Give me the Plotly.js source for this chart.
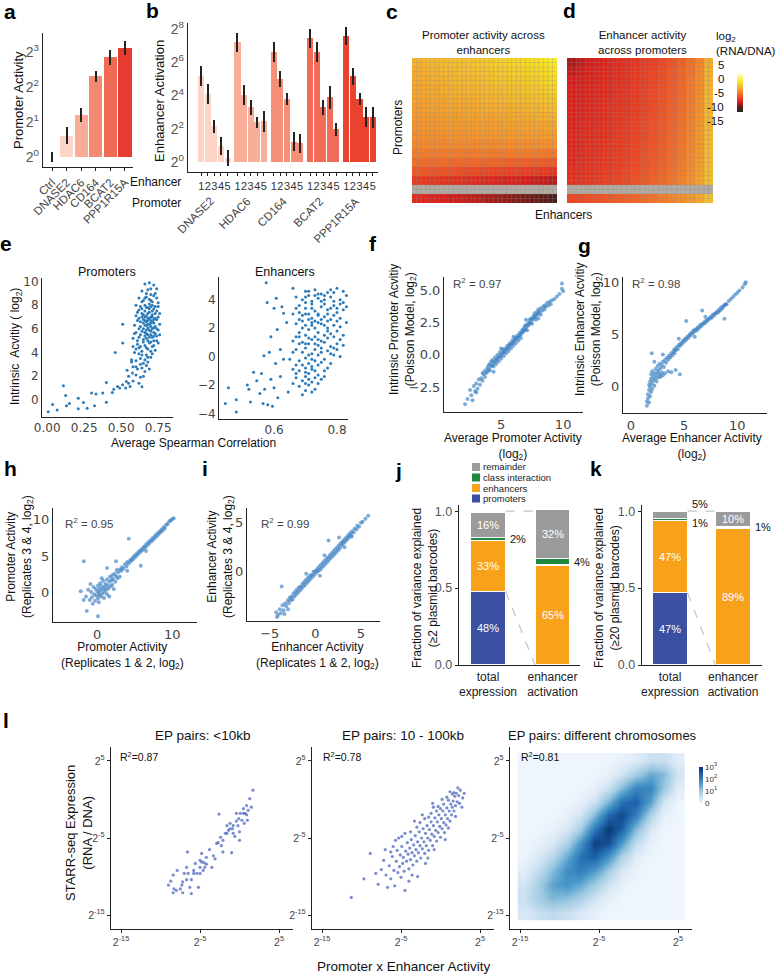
<!DOCTYPE html>
<html><head><meta charset="utf-8">
<script src="https://cdn.plot.ly/plotly-3.0.1.min.js"></script>
<style>body{margin:0;background:#fff}#chart{width:777px;height:976px}</style>
</head><body><div id="chart"></div>
<script>
// ---------------- DATA ----------------
// a: promoter activity (log2)
const aCats=['Ctrl','DNASE2','HDAC6','CD164','BCAT2','PPP1R15A'];
const aVals=[0,0.6,1.2,2.3,2.84,3.12];
const aErr=[0.15,0.24,0.21,0.16,0.21,0.2];
const aTicks=[0,1,2,3];
// b: enhancer activation (log2)
const bPromoters=['DNASE2','HDAC6','CD164','BCAT2','PPP1R15A'];
const bEnhancers=['1','2','3','4','5'];
const bVals=[[5.2,4.1,2.15,0.95,0.25],[7.2,4.05,3.3,2.4,2.45],[6.65,5.0,3.8,1.22,1.14],[7.45,6.65,3.29,3.9,1.98],[7.6,5.15,3.79,2.69,2.69]];
const bErr=[[0.6,0.6,0.4,0.55,0.5],[0.55,0.6,0.45,0.33,0.65],[0.6,0.47,0.37,0.58,0.57],[0.58,0.6,0.47,0.68,0.4],[0.55,0.5,0.35,0.6,0.63]];
const bTicks=[0,2,4,6,8];
// c: promoter activity across enhancers (log2 RNA/DNA), rows top->bottom
const cMatrix=[
[-2.6,-2.4,-2.3,-2.1,-1.9,-1.8,-1.6,-1.4,-1.2,-1.0,-0.8,-0.6,-0.3,0.0,0.3,0.8],
[-2.9,-2.7,-2.6,-2.4,-2.3,-2.1,-2.0,-1.8,-1.6,-1.4,-1.2,-1.0,-0.8,-0.5,-0.2,0.2],
[-3.1,-3.0,-2.8,-2.7,-2.5,-2.4,-2.2,-2.1,-1.9,-1.7,-1.6,-1.4,-1.2,-1.0,-0.7,-0.4],
[-3.3,-3.2,-3.1,-2.9,-2.8,-2.7,-2.5,-2.4,-2.2,-2.1,-1.9,-1.8,-1.6,-1.4,-1.2,-0.9],
[-3.5,-3.4,-3.3,-3.2,-3.1,-3.0,-2.9,-2.7,-2.6,-2.5,-2.4,-2.2,-2.1,-1.9,-1.7,-1.5],
[-3.8,-3.7,-3.6,-3.5,-3.4,-3.3,-3.2,-3.1,-3.0,-2.9,-2.8,-2.7,-2.6,-2.4,-2.3,-2.1],
[-4.0,-3.9,-3.9,-3.8,-3.7,-3.6,-3.5,-3.5,-3.4,-3.3,-3.2,-3.1,-3.0,-2.9,-2.8,-2.7],
[-4.3,-4.2,-4.2,-4.1,-4.0,-4.0,-3.9,-3.8,-3.8,-3.7,-3.6,-3.6,-3.5,-3.4,-3.4,-3.3],
[-4.6,-4.5,-4.5,-4.4,-4.4,-4.3,-4.3,-4.2,-4.2,-4.1,-4.1,-4.0,-4.0,-3.9,-3.9,-3.8],
[-5.0,-4.9,-4.9,-4.9,-4.8,-4.8,-4.8,-4.7,-4.7,-4.7,-4.6,-4.6,-4.6,-4.6,-4.5,-4.5],
[-5.5,-5.5,-5.5,-5.5,-5.5,-5.5,-5.5,-5.5,-5.5,-5.5,-5.5,-5.5,-5.5,-5.5,-5.6,-5.6],
[-6.2,-6.2,-6.3,-6.3,-6.4,-6.4,-6.5,-6.5,-6.6,-6.6,-6.7,-6.7,-6.8,-6.9,-7.0,-7.1],
[-7.2,-7.3,-7.4,-7.5,-7.6,-7.7,-7.8,-7.9,-8.0,-8.1,-8.2,-8.3,-8.4,-8.5,-8.7,-8.9],
[-8.6,-8.8,-8.9,-9.1,-9.3,-9.4,-9.6,-9.8,-9.9,-10.0,-10.2,-10.3,-10.5,-10.7,-10.9,-11.2],
[null,null,null,null,null,null,null,null,null,null,null,null,null,null,null,null],
[-9.6,-9.9,-10.1,-10.3,-10.6,-10.8,-11.0,-11.2,-11.5,-11.7,-12.0,-12.2,-12.5,-12.8,-13.2,-13.8]];
// d: enhancer activity across promoters
const dMatrix=[
[-11.5,-11.0,-10.6,-10.3,-10.0,-9.7,-9.4,-9.1,-8.7,-8.3,-7.9,-7.4,-6.8,-6.0,-5.0,-3.0],
[-11.0,-10.6,-10.3,-10.0,-9.8,-9.5,-9.2,-8.9,-8.5,-8.1,-7.7,-7.2,-6.6,-5.8,-4.8,-2.8],
[-10.6,-10.3,-10.1,-9.9,-9.7,-9.4,-9.1,-8.8,-8.4,-8.0,-7.6,-7.1,-6.5,-5.7,-4.7,-2.7],
[-10.4,-10.2,-10.0,-9.8,-9.6,-9.3,-9.0,-8.7,-8.3,-7.9,-7.5,-7.0,-6.4,-5.6,-4.6,-2.6],
[-10.3,-10.1,-9.9,-9.7,-9.5,-9.2,-8.9,-8.6,-8.2,-7.8,-7.4,-6.9,-6.3,-5.5,-4.5,-2.5],
[-10.2,-10.0,-9.8,-9.6,-9.4,-9.1,-8.8,-8.5,-8.1,-7.7,-7.3,-6.8,-6.2,-5.4,-4.4,-2.5],
[-10.1,-9.9,-9.7,-9.5,-9.3,-9.0,-8.7,-8.4,-8.0,-7.6,-7.2,-6.7,-6.1,-5.3,-4.3,-2.4],
[-10.0,-9.8,-9.6,-9.4,-9.2,-8.9,-8.6,-8.3,-7.9,-7.5,-7.1,-6.6,-6.0,-5.2,-4.2,-2.4],
[-9.9,-9.7,-9.5,-9.3,-9.1,-8.8,-8.5,-8.2,-7.8,-7.4,-7.0,-6.5,-5.9,-5.1,-4.1,-2.3],
[-9.8,-9.6,-9.4,-9.2,-9.0,-8.7,-8.4,-8.1,-7.7,-7.3,-6.9,-6.4,-5.8,-5.0,-4.0,-2.3],
[-9.7,-9.5,-9.3,-9.1,-8.9,-8.6,-8.3,-8.0,-7.6,-7.2,-6.8,-6.3,-5.7,-4.9,-3.9,-2.2],
[-9.6,-9.4,-9.2,-9.0,-8.8,-8.5,-8.2,-7.9,-7.5,-7.1,-6.7,-6.2,-5.6,-4.8,-3.8,-2.2],
[-9.4,-9.2,-9.0,-8.8,-8.6,-8.3,-8.0,-7.7,-7.3,-6.9,-6.5,-6.0,-5.4,-4.6,-3.6,-2.1],
[-9.2,-9.0,-8.8,-8.6,-8.4,-8.1,-7.8,-7.5,-7.1,-6.7,-6.3,-5.8,-5.2,-4.4,-3.4,-2.0],
[null,null,null,null,null,null,null,null,null,null,null,null,null,null,null,null],
[-8.0,-7.8,-7.6,-7.4,-7.2,-7.0,-6.8,-6.5,-6.2,-5.9,-5.5,-5.1,-4.6,-4.0,-3.2,-2.0]];
const cbTicks=[5,0,-5,-10,-15];
// e: spearman correlation vs intrinsic activity
const ePromPts=[[0.007,-1.0],[0.036,-0.4],[0.067,-0.85],[0.11,1.2],[0.125,0.37],[0.13,-0.5],[0.15,-0.3],[0.21,0.14],[0.21,-0.76],[0.245,-0.23],[0.27,-0.7],[0.30,0.57],[0.33,0.5],[0.32,-0.5],[0.375,0.57],[0.40,-0.2],[0.40,1.47],[0.44,0.62],[0.45,0.9],[0.475,1.13],[0.46,4.0],[0.51,4.8],[0.51,1.27],[0.53,1.0],[0.535,1.56],[0.55,2.0],[0.56,1.13],[0.576,2.27],[0.51,6.4],[0.60,2.8],[0.49,1.0],[0.54,2.5],[0.57,3.2],[0.55,1.4],
[0.66,9.8],[0.69,9.9],[0.72,9.7],[0.64,9.2],[0.68,9.3],[0.70,8.9],[0.73,9.0],[0.62,8.6],[0.65,8.4],[0.67,8.7],[0.69,8.5],[0.71,8.3],[0.74,8.6],[0.60,8.0],[0.63,7.9],[0.66,8.0],[0.68,7.8],[0.70,7.9],[0.72,7.7],[0.75,7.9],[0.61,7.4],[0.64,7.3],[0.66,7.5],[0.67,7.1],[0.69,7.4],[0.71,7.2],[0.73,7.3],[0.75,7.0],[0.62,6.9],[0.65,6.8],[0.67,6.6],[0.68,6.9],[0.70,6.7],[0.72,6.5],[0.74,6.8],[0.76,6.4],[0.59,6.3],[0.63,6.2],[0.66,6.3],[0.68,6.1],[0.69,6.4],[0.71,6.0],[0.73,6.2],[0.75,5.9],[0.60,5.7],[0.64,5.8],[0.67,5.6],[0.69,5.9],[0.70,5.5],[0.72,5.7],[0.74,5.4],[0.58,5.2],[0.62,5.3],[0.65,5.1],[0.67,5.2],[0.70,4.9],[0.72,5.0],[0.75,4.8],[0.61,4.7],[0.63,4.5],[0.66,4.6],[0.68,4.3],[0.71,4.5],[0.73,4.2],[0.59,4.0],[0.62,3.9],[0.64,4.1],[0.67,3.8],[0.70,3.6],[0.57,3.4],[0.60,3.3],[0.63,3.5],[0.65,3.1],[0.68,3.2],[0.58,2.8],[0.61,2.6],[0.64,2.7],[0.66,2.4],[0.60,2.1],[0.63,1.9],[0.65,2.0],[0.62,1.4],[0.58,1.6],[0.64,1.1],[0.69,8.1],[0.70,7.0],[0.67,5.9],[0.69,5.3],[0.71,6.6],[0.68,6.7],[0.66,7.0],[0.72,6.1],[0.65,6.0],[0.70,6.2],[0.68,5.0],[0.74,7.5],[0.63,6.6],[0.71,8.0],[0.66,5.4],[0.64,7.0],[0.73,5.6],
[0.67,6.3],[0.69,6.9],[0.71,7.5],[0.68,7.3],[0.70,8.4],[0.72,8.8],[0.66,8.6],[0.64,7.7],[0.65,6.5],[0.73,6.9],[0.74,6.0],[0.71,5.3],[0.69,4.8],[0.67,4.4],[0.65,4.9],[0.63,5.5],[0.62,6.0],[0.61,6.7],[0.60,7.1],[0.62,7.6],[0.64,8.3],[0.67,9.0],[0.70,9.4],[0.74,9.4],[0.75,8.2],[0.76,7.3],[0.76,5.5],[0.74,5.0],[0.72,4.6],[0.70,4.1],[0.68,3.6],[0.66,3.4],[0.64,3.8],[0.62,4.4],[0.61,5.0],[0.59,5.6],[0.58,4.5],[0.60,4.3],[0.66,5.7],[0.68,5.5],[0.70,5.8],[0.72,6.8],[0.69,7.7],[0.67,7.8],[0.65,7.2],[0.71,7.0],[0.73,7.9],[0.70,6.5],[0.68,6.4],[0.66,6.7],[0.72,5.4],[0.63,3.0],[0.67,2.9],[0.71,3.9],[0.69,2.6]];
const eEnhPts=[[0.445,-3.3],[0.48,-3.9],[0.48,-3.05],[0.455,-2.2],[0.515,-2.0],[0.52,-2.3],[0.525,-3.2],[0.535,-1.1],[0.56,-1.2],[0.565,-3.3],[0.58,-3.4],[0.595,-3.5],[0.575,5.2],[0.578,3.8],[0.607,4.1],[0.59,1.4],[0.568,0.05],[0.585,0.3],[0.63,3.05],[0.555,-2.6],[0.57,-2.3],[0.6,-2.2],[0.59,-1.6],[0.612,-2.9],[0.62,-1.4],[0.605,-0.5],[0.62,0.5],[0.61,1.9],[0.6,3.4],[0.625,3.5],[0.64,2.4],[0.63,-0.2],[0.645,-2.5],[0.545,-1.7],
[0.66,4.8],[0.70,4.6],[0.73,4.7],[0.77,4.5],[0.80,4.8],[0.67,4.2],[0.69,4.0],[0.71,4.3],[0.74,4.1],[0.76,4.0],[0.78,4.2],[0.81,4.0],[0.82,3.8],[0.68,3.6],[0.70,3.4],[0.72,3.7],[0.73,3.2],[0.75,3.5],[0.77,3.3],[0.79,3.6],[0.80,3.1],[0.82,3.3],[0.66,3.0],[0.69,2.9],[0.71,3.0],[0.72,2.7],[0.74,2.9],[0.76,2.8],[0.78,2.6],[0.81,2.7],[0.83,2.4],[0.67,2.3],[0.70,2.2],[0.72,2.4],[0.73,2.0],[0.75,2.3],[0.77,2.0],[0.79,2.2],[0.80,1.8],[0.68,1.7],[0.70,1.5],[0.71,1.9],[0.73,1.4],[0.74,1.7],[0.76,1.5],[0.78,1.6],[0.82,1.5],[0.66,1.1],[0.69,1.0],[0.71,0.9],[0.72,1.2],[0.74,0.8],[0.76,1.0],[0.78,0.7],[0.80,0.9],[0.67,0.5],[0.69,0.3],[0.70,0.6],[0.72,0.2],[0.73,0.5],[0.75,0.3],[0.77,0.4],[0.79,0.1],[0.81,0.0],[0.65,-0.2],[0.68,-0.3],[0.70,-0.1],[0.71,-0.5],[0.73,-0.3],[0.74,-0.6],[0.76,-0.2],[0.78,-0.5],[0.66,-0.9],[0.68,-1.0],[0.70,-0.8],[0.71,-1.2],[0.72,-0.9],[0.74,-1.3],[0.76,-1.0],[0.67,-1.5],[0.69,-1.7],[0.70,-1.4],[0.72,-1.8],[0.73,-1.5],[0.75,-1.6],[0.68,-2.1],[0.70,-2.4],[0.71,-2.0],[0.73,-2.3],[0.69,-2.7],[0.66,-1.9],[0.72,3.9],[0.75,4.4],[0.70,3.0],[0.76,3.7],[0.73,2.5],[0.71,2.6],[0.75,1.1],[0.77,2.5],[0.69,2.0],[0.74,0.1],[0.71,0.1],[0.68,0.9],[0.77,1.3],[0.80,3.4],[0.83,4.3],[0.79,4.5],[0.81,2.1],[0.72,-0.7],[0.67,-0.6],
[0.71,4.6],[0.74,4.4],[0.78,4.7],[0.76,4.3],[0.79,3.9],[0.75,3.9],[0.72,3.4],[0.70,3.8],[0.68,3.1],[0.74,3.0],[0.77,3.0],[0.80,2.5],[0.79,2.9],[0.75,2.6],[0.72,2.2],[0.69,2.5],[0.68,1.4],[0.71,1.3],[0.74,1.2],[0.77,1.8],[0.79,1.4],[0.81,1.2],[0.70,0.9],[0.73,0.9],[0.75,0.6],[0.78,0.2],[0.80,0.5],[0.82,0.8],[0.69,-0.6],[0.72,-0.2],[0.75,-0.4],[0.77,-0.8],[0.70,-1.1],[0.73,-1.0],[0.76,-1.4],[0.71,-1.6],[0.74,-1.9],[0.72,-2.5],[0.70,-1.9],[0.67,-1.2],[0.66,0.3],[0.67,1.4],[0.68,2.6],[0.67,3.4],[0.70,4.2],[0.82,4.6],[0.83,3.5],[0.81,3.7],[0.78,3.4],[0.73,4.3],[0.76,2.2],[0.79,0.6],[0.74,2.4]];
// f: average promoter activity vs Poisson model
const fPts=[[2.1,-3.8],[2.3,-3.4],[2.5,-2.7],[2.6,-3.1],[2.8,-2.4],[2.9,-2.8],[3.0,-2.2],[3.1,-2.6],[3.2,-1.9],[3.3,-2.3],[3.4,-1.8],[3.5,-1.4],[3.5,-2.0],[3.6,-1.5],[3.7,-1.2],[3.7,-1.7],[3.8,-1.4],[3.9,-1.0],[3.9,-1.3],[4.0,-1.1],[4.0,-0.8],[4.1,-1.2],[4.1,-0.7],[4.2,-0.9],[4.2,-0.5],[4.3,-0.8],[4.3,-0.4],[4.4,-0.6],[4.4,-0.9],[4.5,-0.5],[4.5,-0.2],[4.6,-0.4],[4.6,-0.7],[4.7,-0.3],[4.7,0.0],[4.8,-0.2],[4.8,-0.5],[4.9,-0.1],[4.9,0.2],[5.0,0.0],[5.0,-0.3],[5.1,0.1],[5.1,0.4],[5.2,0.2],[5.2,-0.1],[5.3,0.3],[5.3,0.5],[5.4,0.4],[5.4,0.1],[5.5,0.5],[5.5,0.7],[5.6,0.6],[5.6,0.3],[5.7,0.7],[5.7,0.9],[5.8,0.8],[5.8,0.5],[5.9,0.9],[5.9,1.1],[6.0,1.0],[6.0,0.7],[6.1,1.1],[6.1,1.3],[6.2,1.2],[6.2,0.9],[6.3,1.3],[6.3,1.5],[6.4,1.4],[6.4,1.1],[6.5,1.5],[6.5,1.7],[6.6,1.6],[6.6,1.3],[6.7,1.7],[6.7,1.9],[6.8,1.8],[6.8,2.0],[6.9,1.9],[6.9,2.2],[7.0,2.0],[7.0,2.3],[7.1,2.2],[7.1,1.9],[7.2,2.3],[7.2,2.5],[7.3,2.4],[7.3,2.7],[7.4,2.5],[7.4,2.8],[7.5,2.7],[7.5,2.4],[7.6,2.8],[7.6,3.0],[7.7,2.9],[7.7,3.2],[7.8,3.0],[7.8,2.7],[7.9,3.1],[7.9,3.3],[8.0,3.2],[8.0,3.5],[8.1,3.3],[8.2,3.6],[8.2,3.1],[8.3,3.4],[8.4,3.7],[8.5,3.5],[8.5,3.8],[8.6,3.7],[8.7,4.0],[8.8,3.8],[8.9,4.1],[9.0,3.9],[9.1,4.2],[9.3,4.3],[9.5,4.5],[9.7,4.7],[9.9,5.1],[10.0,4.9],[9.9,5.5],[3.0,-2.9],[2.7,-3.5],[6.0,1.4],[5.0,0.5],[7.0,2.7],[4.4,-1.3],[8.0,2.8]];
// g: average enhancer activity vs Poisson model
const gPts=[[1.5,-1.8],[1.5,-1.4],[1.6,-1.1],[1.6,-0.7],[1.7,-1.5],[1.7,-0.3],[1.7,0.2],[1.8,-0.9],[1.8,0.5],[1.8,0.0],[1.9,-0.5],[1.9,0.8],[1.9,1.2],[2.0,0.3],[2.0,-0.2],[2.0,1.5],[2.1,0.6],[2.1,1.0],[2.2,0.1],[2.2,1.3],[2.3,0.8],[2.3,1.7],[2.4,1.1],[2.4,0.5],[2.5,1.4],[2.5,2.0],[2.6,0.9],[2.6,1.6],[2.7,1.2],[2.7,2.2],[2.8,1.8],[2.8,1.0],[2.9,2.1],[2.9,1.4],[3.0,2.4],[3.0,1.1],[3.1,1.9],[3.2,2.6],[3.2,1.3],[3.3,2.3],[3.4,2.8],[3.5,1.5],[3.5,2.6],[3.6,3.0],[3.7,2.8],[3.8,3.2],[3.8,1.4],[3.9,3.0],[4.0,3.4],[4.1,3.2],[4.1,3.6],[4.2,3.5],[4.3,3.8],[4.4,3.6],[4.5,4.0],[4.6,3.9],[4.7,4.2],[4.8,4.1],[4.9,4.4],[5.0,4.3],[5.1,4.6],[5.2,4.5],[5.3,4.8],[5.4,4.7],[5.5,5.0],[5.6,4.9],[5.7,5.2],[5.8,5.1],[5.9,5.4],[6.0,5.3],[6.1,5.5],[6.2,5.4],[6.3,5.7],[6.4,5.6],[6.5,5.9],[6.6,5.8],[6.7,6.0],[6.8,6.0],[6.9,6.2],[7.0,6.1],[7.1,6.4],[7.2,6.3],[7.3,6.5],[7.4,6.5],[7.5,6.7],[7.6,6.6],[7.7,6.9],[7.8,6.8],[7.9,7.0],[8.0,7.0],[8.1,7.2],[8.2,7.1],[8.3,7.4],[8.4,7.3],[8.5,7.6],[8.6,7.5],[8.7,7.7],[8.8,7.8],[8.9,7.9],[9.0,7.9],[9.2,8.2],[9.4,8.4],[9.6,8.6],[9.8,8.8],[10.0,9.0],[10.2,9.2],[10.5,9.5],[10.7,9.8],[10.8,10.0],[1.95,3.2],[5.2,6.3],[6.7,7.3],[8.8,6.5],[4.5,4.6],[6.0,4.8],[7.0,6.7],[3.0,3.1],[2.2,2.4],[4.2,1.6],[4.6,1.2]];
// h: promoter replicate correlation
const hPts=[[-1.5,-0.5],[-1.2,0.4],[-1.0,-1.0],[-0.8,0.1],[-0.7,-0.6],[-0.5,0.8],[-0.4,-0.2],[-0.3,-1.1],[-0.2,0.5],[-0.1,-0.4],[0.0,0.2],[0.1,-0.8],[0.1,1.0],[0.2,0.0],[0.3,-0.3],[0.3,0.6],[0.4,1.3],[0.5,-0.5],[0.5,0.3],[0.6,0.9],[0.7,-0.1],[0.8,0.5],[0.8,1.6],[0.9,-0.7],[1.0,0.8],[1.0,0.1],[1.1,1.2],[1.2,0.4],[1.3,1.8],[1.3,-0.2],[1.4,1.0],[1.5,0.6],[1.6,1.5],[1.7,2.2],[1.8,0.9],[1.9,1.7],[2.0,2.4],[2.0,1.1],[2.1,1.9],[2.3,2.6],[2.4,1.5],[2.5,2.3],[2.6,3.1],[2.7,2.0],[2.8,2.8],[3.0,3.2],[3.0,2.2],[3.2,3.0],[-0.6,-1.5],[0.2,-1.3],[-1.8,-1.0],[1.6,-0.5],[-0.9,1.2],[0.6,2.0],[2.2,0.5],
[3.3,3.5],[3.5,3.3],[3.7,3.9],[3.9,3.6],[4.0,4.2],[4.2,4.0],[4.4,4.5],[4.5,4.3],[4.7,4.8],[4.8,4.6],[5.0,5.1],[5.1,4.9],[5.3,5.4],[5.4,5.2],[5.6,5.7],[5.7,5.5],[5.9,6.0],[6.0,5.8],[6.2,6.3],[6.3,6.1],[6.5,6.6],[6.6,6.4],[6.8,6.9],[6.9,6.7],[7.1,7.2],[7.2,7.0],[7.4,7.5],[7.5,7.3],[7.7,7.8],[7.8,7.6],[8.0,8.1],[8.1,7.9],[8.3,8.4],[8.4,8.2],[8.6,8.7],[8.7,8.5],[8.9,9.0],[9.0,8.8],[9.2,9.3],[9.4,9.4],[9.6,9.8],[9.8,9.9],[10.0,10.1],[10.2,10.2],
[-1.8,4.3],[4.2,7.4],[1.3,3.4],[-1.4,-2.5],[0.1,-3.2],[5.8,3.7],[-2.2,0.2],[2.5,4.3],[6.5,5.7],[4.0,3.0]];
// i: enhancer replicate correlation
const iPts=[[-4.3,-4.1],[-4.1,-4.4],[-3.9,-3.8],[-3.8,-4.2],[-3.6,-3.4],[-3.5,-3.9],[-3.3,-3.2],[-3.2,-3.5],[-3.0,-2.9],[-2.9,-3.2],[-2.8,-2.6],[-2.7,-2.9],[-2.6,-2.5],[-2.5,-2.8],[-2.4,-2.2],[-2.3,-2.5],[-2.2,-2.0],[-2.1,-2.3],[-2.0,-1.8],[-1.9,-2.1],[-1.8,-1.6],[-1.7,-1.9],[-1.6,-1.5],[-1.5,-1.7],[-1.4,-1.2],[-1.3,-1.5],[-1.2,-1.0],[-1.1,-1.3],[-1.0,-0.8],[-0.9,-1.1],[-0.8,-0.6],[-0.7,-0.9],[-0.6,-0.4],[-0.5,-0.7],[-0.4,-0.3],[-0.3,-0.5],[-0.2,0.0],[-0.1,-0.3],[0.0,0.1],[0.1,-0.1],[0.2,0.3],[0.3,0.1],[0.4,0.5],[0.5,0.2],[0.6,0.7],[0.7,0.4],[0.8,0.9],[0.9,0.6],[1.0,1.1],[1.1,0.8],[1.2,1.3],[1.3,1.0],[1.4,1.5],[1.5,1.2],[1.6,1.7],[1.7,1.4],[1.8,1.9],[1.9,1.6],[2.0,2.1],[2.1,1.8],[2.2,2.3],[2.3,2.0],[2.4,2.5],[2.5,2.2],[2.6,2.7],[2.7,2.4],[2.8,2.9],[2.9,2.7],[3.0,3.1],[3.1,2.9],[3.2,3.3],[3.3,3.1],[3.4,3.5],[3.5,3.3],[3.6,3.7],[3.7,3.5],[3.8,3.9],[3.9,3.7],[4.0,4.1],[4.2,4.0],[4.3,4.4],[4.5,4.3],[4.6,4.7],[4.8,4.6],[5.0,5.0],[5.2,5.1],[5.5,5.4],[5.8,5.7],[-3.7,-1.5],[1.45,3.2],[-4.2,-4.6],[-3.4,-4.3],[-3.0,-3.8],[2.6,3.5],[0.5,-0.4],[-1.0,-0.2],[3.2,2.5],[4.0,3.6],[1.0,1.7]];
// j, k: variance decomposition (%), order: promoters, enhancers, class interaction, remainder
const varComponents=['promoters','enhancers','class interaction','remainder'];
const varColors=['#3b4fa3','#f8a21c','#1d8a3f','#9b9b9b'];
const jTotal=[48,33,2,16], jEnhAct=[0,65,4,32];
const kTotal=[47,47,1,5], kEnhAct=[0,89,1,10];
const barCats=['total<br>expression','enhancer<br>activation'];
// l: EP pairs
const l1Pts=[[-9.0,-11.1],[-8.7,-10.6],[-8.4,-12.1],[-8.3,-11.6],[-8.0,-11.8],[-8.4,-9.8],[-7.5,-11.6],[-7.3,-11.1],[-7.2,-10.7],[-7.0,-9.6],[-6.7,-10.4],[-6.5,-9.6],[-6.6,-6.8],[-6.3,-11.4],[-6.1,-10.4],[-5.8,-9.2],[-5.6,-8.3],[-5.4,-9.6],[-5.2,-11.4],[-5.0,-8.8],[-5.0,-7.9],[-4.8,-8.1],[-4.6,-9.2],[-4.5,-8.2],[-4.2,-8.4],[-3.8,-6.5],[-3.5,-8.8],[-3.1,-7.7],[-2.9,-5.7],[-2.7,-5.6],[-2.6,-1.9],[-2.4,-4.9],[-2.3,-6.0],[-2.1,-5.3],[-1.8,-4.4],[-1.6,-3.4],[-1.4,-4.0],[-1.2,-3.1],[-1.0,-6.9],[-0.9,-3.8],[-0.8,-3.4],[-0.6,-4.8],[-0.4,-2.8],[-0.2,-3.4],[0.0,-5.3],[0.1,-1.8],[0.3,-2.7],[0.5,-1.2],[0.6,-3.1],[0.7,-1.8],[0.9,-0.8],[1.0,-2.7],[1.1,-1.4],[1.3,0.1],[1.5,-1.0],[1.7,1.2],[-0.8,-4.4],[-1.2,-3.8],[-5.8,-9.6],[-7.9,-9.2],[-6.7,-8.8],[-3.3,-7.3],[-5.0,-9.6],[-4.4,-8.8],[-4.2,-7.5],[-0.4,-1.8],[-0.1,-2.5],[-2.1,-6.8],[0.0,-4.2],[0.9,-2.0],[-1.6,-4.4],[0.5,-1.8],[-4.8,-7.0],[-6.1,-12.2],[-7.2,-12.1]];
const l2Pts=[[-11.3,-12.7],[-9.7,-10.3],[-8.9,-7.0],[-8.2,-9.6],[-7.2,-7.9],[-6.7,-11.4],[-7.9,-11.0],[-7.5,-9.1],[-6.9,-9.8],[-6.5,-8.6],[-6.3,-10.3],[-6.1,-7.4],[-5.9,-9.2],[-5.8,-11.2],[-5.6,-8.0],[-5.5,-6.6],[-5.4,-9.5],[-5.2,-8.7],[-5.1,-7.2],[-5.0,-10.1],[-4.9,-6.1],[-4.8,-8.3],[-4.7,-7.5],[-4.6,-9.3],[-4.5,-11.8],[-4.4,-6.7],[-4.3,-8.0],[-4.2,-5.6],[-4.1,-7.1],[-4.0,-9.0],[-3.9,-6.3],[-3.8,-7.8],[-3.7,-5.2],[-3.6,-6.9],[-3.5,-8.5],[-3.4,-5.9],[-3.3,-7.3],[-3.2,-4.7],[-3.1,-6.5],[-3.0,-8.0],[-2.9,-5.5],[-2.8,-6.9],[-2.7,-4.2],[-2.6,-6.0],[-2.5,-7.6],[-2.4,-5.0],[-2.3,-6.4],[-2.2,-3.8],[-2.1,-5.5],[-2.0,-7.0],[-1.9,-4.4],[-1.8,-6.0],[-1.7,-3.4],[-1.6,-5.0],[-1.5,-6.6],[-1.4,-3.9],[-1.3,-5.3],[-1.2,-2.9],[-1.1,-4.5],[-1.0,-6.0],[-0.9,-3.4],[-0.8,-4.8],[-0.7,-2.4],[-0.6,-4.0],[-0.5,-5.4],[-0.4,-2.9],[-0.3,-4.3],[-0.2,-2.0],[-0.1,-3.5],[0.0,-4.9],[0.1,-2.5],[0.2,-3.8],[0.3,-1.5],[0.4,-3.0],[0.5,-4.3],[0.6,-2.0],[0.7,-3.3],[0.8,-1.1],[0.9,-2.5],[1.0,-3.7],[1.1,-1.5],[1.2,-2.8],[1.3,-0.6],[1.4,-2.0],[1.5,-1.0],[1.6,-0.2],[1.7,-1.5],[1.8,0.4],[1.9,-0.8],[2.0,0.8],[2.1,-0.3],[2.3,0.5],[2.5,1.2],[2.7,-1.0],[1.2,1.0],[0.8,0.3],[2.2,1.5],[1.5,0.7],[2.8,0.2],[-3.0,-3.6],[-1.2,-1.8],[0.0,-1.2],[-4.5,-4.4],[-6.0,-6.1],[-2.0,-2.5],[-5.3,-5.0],[-3.6,-9.8],[-1.6,-7.6],[0.6,-5.2],[-0.8,-6.5],[-2.9,-10.0],[-4.0,-10.6],[-1.9,-8.3],[1.9,-2.2],[0.4,-0.6],[-0.5,-1.5],[-3.8,-4.2],[-2.6,-3.0],[-1.5,-2.3],[-0.3,-0.9],[1.0,-0.1],[-6.3,-6.8],[-5.7,-5.3],[-4.9,-4.8],[2.4,-0.5],[3.0,0.8],[1.7,0.9],[-0.9,-1.0],[-2.3,-2.0],[0.2,0.0],[-7.0,-6.5],[-3.3,-2.8],[-1.0,-0.5]];
// l3: density of EP pairs on different chromosomes (log10 count), rows bottom->top
const l3BinX=[-14.4,-12.6,-10.9,-9.1,-7.3,-5.6,-3.8,-2.1,-0.3,1.5,3.2,5.0];
const l3BinY=[-14.7,-12.9,-11.1,-9.3,-7.5,-5.7,-3.9,-2.1,-0.3,1.5,3.3,5.1];
const l3Density=[
[0.3,0.5,0.6,0.5,0.3,0.1,0,0,0,0,0,0],
[0.5,0.9,1.2,1.1,0.8,0.4,0.1,0,0,0,0,0],
[0.4,0.9,1.5,1.7,1.4,0.9,0.4,0.1,0,0,0,0],
[0.2,0.6,1.2,1.8,2.0,1.6,0.9,0.3,0.05,0,0,0],
[0.05,0.3,0.7,1.4,2.2,2.4,1.7,0.8,0.2,0,0,0],
[0,0.1,0.3,0.8,1.7,2.8,2.6,1.6,0.6,0.1,0,0],
[0,0,0.1,0.3,0.9,2.1,2.9,2.4,1.2,0.3,0,0],
[0,0,0,0.1,0.4,1.2,2.3,2.7,2.0,0.8,0.1,0],
[0,0,0,0,0.1,0.5,1.3,2.2,2.4,1.5,0.4,0],
[0,0,0,0,0,0.1,0.5,1.2,1.9,1.9,1.0,0.2],
[0,0,0,0,0,0,0.1,0.4,0.9,1.4,1.2,0.4],
[0,0,0,0,0,0,0,0.1,0.2,0.5,0.5,0.2]];
const lTicks=[-15,-5,5];

// ---------------- STYLE / LAYOUT ----------------
const W=777,H=976;
const FONT='Liberation Sans, Arial, Helvetica, sans-serif';
const MPL='DejaVu Sans, Liberation Sans, sans-serif';
const aColors=['#ffffff','#fcd5c6','#f9ad97','#f58a72','#f06b56','#e63b2e'];
const bColors=['#fcd3c4','#f9ae99','#f58f78','#f16c57','#e9432f'];
const ZMIN=-15.7,ZMAX=5.7;
const heatStops=[[-15.7,'#262626'],[-13,'#5e1c16'],[-10.5,'#d91c1a'],[-8,'#ee4422'],[-5,'#f5862a'],[-2,'#f6bd2c'],[0.5,'#f8e71e'],[3,'#fbf58a'],[5.7,'#ffffff']];
const heatScale=heatStops.map(s=>[(s[0]-ZMIN)/(ZMAX-ZMIN),s[1]]);
const pts=(arr,i)=>arr.map(p=>p[i]);
const sup=n=>'2<sup>'+n+'</sup>';

const base={showgrid:false,zeroline:false,automargin:false,fixedrange:true};
function X(p0,p1,range,ex){return Object.assign({},base,{domain:[p0/W,p1/W],range:range},ex||{});}
function Y(p0,p1,range,ex){return Object.assign({},base,{domain:[1-p1/H,1-p0/H],range:range},ex||{});}
const lineAx={showline:true,linecolor:'#222',linewidth:1.3,ticks:'outside',ticklen:3,tickcolor:'#222',tickwidth:1};
const mplX={showline:true,linecolor:'#222',linewidth:1,ticks:''};
const mplY={showline:true,linecolor:'#222',linewidth:1,ticks:''};
const hid={visible:false};

const traces=[];
// a
traces.push({type:'bar',x:aCats.map((c,i)=>i),y:aVals,width:0.9,marker:{color:aColors},
  error_y:{type:'data',array:aErr,color:'#222',thickness:2,width:0},xaxis:'x',yaxis:'y',hoverinfo:'none'});
// b
const bX=[],bY=[],bE=[],bC=[],bT=[];
bVals.forEach((g,gi)=>g.forEach((v,i)=>{bX.push(gi*5.5+i);bY.push(v);bE.push(bErr[gi][i]);bC.push(bColors[gi]);bT.push(bEnhancers[i]);}));
traces.push({type:'bar',x:bX,y:bY,width:0.92,marker:{color:bC},
  error_y:{type:'data',array:bE,color:'#222',thickness:2,width:0},xaxis:'x2',yaxis:'y2',hoverinfo:'none'});
// c, d heatmaps
traces.push({type:'heatmap',z:cMatrix,zmin:ZMIN,zmax:ZMAX,colorscale:heatScale,showscale:false,xaxis:'x3',yaxis:'y3',hoverinfo:'none'});
traces.push({type:'heatmap',z:dMatrix,zmin:ZMIN,zmax:ZMAX,colorscale:heatScale,xaxis:'x4',yaxis:'y4',hoverinfo:'none',
  colorbar:{x:727/W,xanchor:'left',thickness:6,thicknessmode:'pixels',len:60/H,lenmode:'fraction',y:1-62/H,yanchor:'top',showticklabels:false,ticks:'',outlinewidth:0}});
// e
const eMk={color:'#2b7bba',size:3};
traces.push({type:'scatter',mode:'markers',x:pts(ePromPts,0),y:pts(ePromPts,1),marker:eMk,xaxis:'x5',yaxis:'y5',hoverinfo:'none'});
traces.push({type:'scatter',mode:'markers',x:pts(eEnhPts,0),y:pts(eEnhPts,1),marker:eMk,xaxis:'x6',yaxis:'y6',hoverinfo:'none'});
// f g h i
const sMk={color:'#3a7fc1',size:4,opacity:0.65};
[[fPts,7],[gPts,8],[hPts,9],[iPts,10]].forEach(([P,n])=>traces.push({type:'scatter',mode:'markers',x:pts(P,0),y:pts(P,1),marker:sMk,xaxis:'x'+n,yaxis:'y'+n,hoverinfo:'none'}));
// j, k stacked bars
const jW=0.543,kW=0.556;
[[jTotal,jEnhAct,11,jW],[kTotal,kEnhAct,12,kW]].forEach(([T,E,n,w])=>{
  varComponents.forEach((c,ci)=>traces.push({type:'bar',name:c,x:[0,1],y:[T[ci]/100,E[ci]/100],width:w,
    marker:{color:varColors[ci],line:{color:'#ffffff',width:1.2}},xaxis:'x'+n,yaxis:'y'+n,hoverinfo:'none'}));
});
// l
const lMk={color:'#4c68bd',size:3.2,opacity:0.75};
traces.push({type:'scatter',mode:'markers',x:pts(l1Pts,0),y:pts(l1Pts,1),marker:lMk,xaxis:'x13',yaxis:'y13',hoverinfo:'none'});
traces.push({type:'scatter',mode:'markers',x:pts(l2Pts,0),y:pts(l2Pts,1),marker:lMk,xaxis:'x14',yaxis:'y14',hoverinfo:'none'});
traces.push({type:'heatmap',x:l3BinX,y:l3BinY,z:l3Density,zmin:0,zmax:3,zsmooth:'best',xaxis:'x15',yaxis:'y15',hoverinfo:'none',
  colorscale:[[0,'#eef5fc'],[0.12,'#d6e6f5'],[0.33,'#9ecae1'],[0.55,'#4a98c9'],[0.78,'#1f66ad'],[1,'#08306b']],
  colorbar:{x:689/W,xanchor:'left',thickness:4,thicknessmode:'pixels',len:56/H,lenmode:'fraction',y:1-757/H,yanchor:'top',
    tickvals:[0,1,2,3],ticktext:['0','10<sup>1</sup>','10<sup>2</sup>','10<sup>3</sup>'],ticks:'',outlinewidth:0,
    tickfont:{family:FONT,size:8,color:'#333'}}});

const tf=(s,c,f)=>({family:f||FONT,size:s,color:c||'#444'});
const lRange=[-16.27,6.77], lYRange=[-16.8,6.8];
const lTickText=lTicks.map(sup);
const layout={width:W,height:H,margin:{l:0,r:0,t:0,b:0},showlegend:false,paper_bgcolor:'#fff',plot_bgcolor:'rgba(0,0,0,0)',
  font:{family:FONT},barmode:'stack',
  xaxis:X(43,133,[-0.62,5.55],Object.assign({},lineAx,{anchor:'y',tickvals:aCats.map((c,i)=>i),ticktext:aCats,tickangle:-45,tickfont:tf(11.5)})),
  yaxis:Y(33,167,[-0.29,3.54],Object.assign({},lineAx,{anchor:'x',ticks:'',tickvals:aTicks,ticktext:aTicks.map(sup),tickfont:tf(14,'#555')})),
  xaxis2:X(188,378,[-2.0,26.8],Object.assign({},lineAx,{anchor:'y2',tickvals:bX,ticktext:bT,tickangle:0,tickfont:tf(11,'#333')})),
  yaxis2:Y(23,172,[-0.6,8.37],Object.assign({},lineAx,{anchor:'x2',ticks:'',tickvals:bTicks,ticktext:bTicks.map(sup),tickfont:tf(14,'#555')})),
  xaxis3:X(412,557,[-0.5,15.5],Object.assign({anchor:'y3'},hid)),
  yaxis3:Y(58,203,[15.5,-0.5],Object.assign({anchor:'x3'},hid)),
  xaxis4:X(567,713,[-0.5,15.5],Object.assign({anchor:'y4'},hid)),
  yaxis4:Y(58,203,[15.5,-0.5],Object.assign({anchor:'x4'},hid)),
  xaxis5:X(42,173,[-0.035,0.85],Object.assign({},mplX,{anchor:'y5',tickvals:[0,0.25,0.5,0.75],tickformat:'.2f',tickfont:tf(12,'#444',MPL)})),
  yaxis5:Y(278,417,[-1.45,10.3],Object.assign({},mplY,{anchor:'x5',tickvals:[0,2,4,6,8,10],tickfont:tf(12,'#444',MPL)})),
  xaxis6:X(219,348,[0.425,0.835],Object.assign({},mplX,{anchor:'y6',tickvals:[0.6,0.8],tickformat:'.1f',tickfont:tf(12,'#444',MPL)})),
  yaxis6:Y(277,419,[-4.4,5.6],Object.assign({},mplY,{anchor:'x6',tickvals:[-4,-2,0,2,4],tickfont:tf(12,'#444',MPL)})),
  xaxis7:X(444,583,[0.4,11.6],Object.assign({},mplX,{anchor:'y7',tickvals:[5,10],tickfont:tf(13,'#444',MPL)})),
  yaxis7:Y(277,412,[-4.4,6.0],Object.assign({},mplY,{anchor:'x7',tickvals:[-2.5,0,2.5,5],tickformat:'.1f',tickfont:tf(13,'#444',MPL)})),
  xaxis8:X(623,767,[-0.75,12.8],Object.assign({},mplX,{anchor:'y8',tickvals:[0,5,10],tickfont:tf(13,'#444',MPL)})),
  yaxis8:Y(277,413,[-2.5,10.5],Object.assign({},mplY,{anchor:'x8',tickvals:[0,5,10],tickfont:tf(13,'#444',MPL)})),
  xaxis9:X(53,197,[-5.9,13.3],Object.assign({},mplX,{anchor:'y9',tickvals:[0,10],tickfont:tf(13,'#444',MPL)})),
  yaxis9:Y(508,622,[-4.0,11.6],Object.assign({},mplY,{anchor:'x9',tickvals:[0,5,10],tickfont:tf(13,'#444',MPL)})),
  xaxis10:X(247,380,[-7.5,7.1],Object.assign({},mplX,{anchor:'y10',tickvals:[-5,0,5],tickfont:tf(13,'#444',MPL)})),
  yaxis10:Y(508,621,[-5.0,6.5],Object.assign({},mplY,{anchor:'x10',tickvals:[0,5],tickfont:tf(13,'#444',MPL)})),
  xaxis11:X(459,580,[-0.45,1.426],{anchor:'y11',showline:true,linecolor:'#222',linewidth:1.2,ticks:'',tickvals:[0,1],ticktext:barCats,tickfont:tf(12,'#222')}),
  yaxis11:Y(505,665,[0,1.04],Object.assign({},lineAx,{anchor:'x11',tickvals:[0,0.5,1],tickformat:'.1f',tickfont:tf(12.5,'#555')})),
  xaxis12:X(642,762,[-0.444,1.46],{anchor:'y12',showline:true,linecolor:'#222',linewidth:1.2,ticks:'',tickvals:[0,1],ticktext:barCats,tickfont:tf(12,'#222')}),
  yaxis12:Y(505,665,[0,1.04],Object.assign({},lineAx,{anchor:'x12',tickvals:[0,0.5,1],tickformat:'.1f',tickfont:tf(12.5,'#555')})),
  shapes:[],annotations:[]
};
[13,14,15].forEach((n,k)=>{
  const x0=[111,312,510][k];
  layout['xaxis'+n]=X(x0,x0+182,lRange,Object.assign({},lineAx,{anchor:'y'+n,tickvals:lTicks,ticktext:lTickText,tickfont:tf(10.5,'#444')}));
  layout['yaxis'+n]=Y(747,929,lYRange,Object.assign({},lineAx,{anchor:'x'+n,tickvals:lTicks,ticktext:lTickText,tickfont:tf(10.5,'#444')}));
});

// grey band (missing rows) behind c / d, plus a faint mesh over them
[3,4].forEach(n=>{
  layout.shapes.push({type:'rect',xref:'x'+n+' domain',yref:'y'+n+' domain',x0:0,x1:1,y0:0,y1:1,fillcolor:'#b3aaa2',line:{width:0},layer:'below'});
  for(let k=1;k<32;k++){
    const f=k/32, ln={color:'rgba(140,140,140,0.28)',width:1};
    layout.shapes.push({type:'line',xref:'x'+n+' domain',yref:'y'+n+' domain',x0:f,x1:f,y0:0,y1:1,line:ln,layer:'above'});
    layout.shapes.push({type:'line',xref:'x'+n+' domain',yref:'y'+n+' domain',x0:0,x1:1,y0:f,y1:f,line:ln,layer:'above'});
  }
});
// dashed connectors j,k
[[jTotal,11,jW],[kTotal,12,kW]].forEach(([T,n,w])=>{
  const dl={color:'#c4c4c4',width:1.2,dash:'dash'};
  layout.shapes.push({type:'line',xref:'x'+n,yref:'y'+n,x0:w/2,x1:1-w/2,y0:1,y1:1,line:dl});
  layout.shapes.push({type:'line',xref:'x'+n,yref:'y'+n,x0:w/2,x1:1-w/2,y0:T[0]/100,y1:0,line:dl});
});
// legend for j (drawn manually, reversed order)
const legY=[467,477.5,488,498.5];
[3,2,1,0].forEach((ci,r)=>{
  layout.shapes.push({type:'rect',xref:'paper',yref:'paper',x0:472/W,x1:480/W,y0:1-(legY[r]+4)/H,y1:1-(legY[r]-4)/H,fillcolor:varColors[ci],line:{width:0}});
});

function A(text,px,py,size,o){return Object.assign({text:text,x:px/W,y:1-py/H,xref:'paper',yref:'paper',showarrow:false,xanchor:'center',yanchor:'middle',
  font:{family:FONT,size:size,color:(o&&o.color)||'#111'}},o||{});}
const ann=layout.annotations;
[3,2,1,0].forEach((ci,r)=>ann.push(A(varComponents[ci],482,legY[r],9.5,{xanchor:'left',color:'#222',borderpad:0})));
// panel letters
[['a',10,12],['b',152,11],['c',392,12],['d',569,11],['e',6,243],['f',373,243],['g',584,245],['h',10,468],['i',205,468],['j',398,470],['k',596,468],['l',6,720]]
  .forEach(([t,x,y])=>ann.push(A('<b>'+t+'</b>',x,y,21,{color:'#000'})));
// a, b titles
ann.push(A('Promoter Activity',18,100,13,{textangle:-90}));
ann.push(A('Enhaancer Activation',159,101,13,{textangle:-90}));
ann.push(A('Enhancer',183,182,12,{xanchor:'right'}));
ann.push(A('Promoter',183,203,12,{xanchor:'right'}));
bPromoters.forEach((p,gi)=>ann.push({text:p,xref:'x2',yref:'paper',x:gi*5.5+2,y:1-192/H,xanchor:'right',yanchor:'top',xshift:5,textangle:-45,showarrow:false,font:{family:FONT,size:11.5,color:'#444'}}));
// c, d
ann.push(A('Promoter activity across<br>enhancers',483,42,11.5));
ann.push(A('Enhancer activity<br>across promoters',642,42,11.5));
ann.push(A('Promoters',398,128,12,{textangle:-90}));
ann.push(A('Enhancers',563,215,12));
ann.push(A('log<sub>2</sub><br>(RNA/DNA)',715,44,11.5,{xanchor:'left',align:'left',borderpad:0}));
cbTicks.forEach(v=>ann.push(A(String(v),725,63+(ZMAX-v)/(ZMAX-ZMIN)*60,11.5,{xanchor:'right',borderpad:0})));
// e
ann.push(A('Promoters',107,272,12.5));
ann.push(A('Enhancers',285,272,12.5));
ann.push(A('Intrinsic  Acvitiy ( log<sub>2</sub>)',16,347,12,{textangle:-90}));
ann.push(A('Average Spearman Correlation',193,443,12,{borderpad:0}));
// f g h i
ann.push(A('Intrinsic Promoter Acvitiy<br>(Poisson Model, log<sub>2</sub>)',402,330,12,{textangle:-90}));
ann.push(A('Average Promoter Activity<br>(log<sub>2</sub>)',513,447,12));
ann.push(A('Intrinsic Enhancer Acvitiy<br>(Poisson Model, log<sub>2</sub>)',588,330,12,{textangle:-90}));
ann.push(A('Average Enhancer Activity<br>(log<sub>2</sub>)',692,447,12));
ann.push(A('Promoter Activity<br>(Replicates 3 &amp; 4, log<sub>2</sub>)',19,557,12,{textangle:-90}));
ann.push(A('Promoter Activity<br>(Replicates 1 &amp; 2, log<sub>2</sub>)',122,655,12));
ann.push(A('Enhancer Activity<br>(Replicates 3 &amp; 4, log<sub>2</sub>)',220,557,12,{textangle:-90}));
ann.push(A('Enhancer Activity<br>(Replicates 1 &amp; 2, log<sub>2</sub>)',317,655,12));
[['0.97',451,283],['0.98',630,283],['0.95',63,523],['0.99',259,523]].forEach(([r,x,y])=>ann.push(A('R<sup>2</sup> = '+r,x,y,11.5,{xanchor:'left',color:'#444'})));
// j k
ann.push(A('Fraction of variance explained<br>(≥2 plasmid barcodes)',425,588,12,{textangle:-90}));
ann.push(A('Fraction of variance explained<br>(≥20 plasmid barcodes)',607,588,12,{textangle:-90}));
const smallShift={'12-0-3':11,'12-0-2':-3};
[[[jTotal,jEnhAct],11,jW],[[kTotal,kEnhAct],12,kW]].forEach(([bars,n,w])=>{
  bars.forEach((vals,bi)=>{let cum=0;vals.forEach((v,ci)=>{const mid=(cum+v/2)/100;cum+=v;if(v===0)return;
    if(v>=10) ann.push({xref:'x'+n,yref:'y'+n,x:bi,y:mid,text:v+'%',showarrow:false,font:{family:FONT,size:11,color:'#fff'}});
    else ann.push({xref:'x'+n,yref:'y'+n,x:bi+w/2,y:mid,xanchor:'left',xshift:2,yshift:smallShift[n+'-'+bi+'-'+ci]||0,text:v+'%',showarrow:false,font:{family:FONT,size:11,color:'#111'}});
  });});
});
// l
ann.push(A('EP pairs: &lt;10kb',202,735,13.5));
ann.push(A('EP pairs: 10 - 100kb',403,735,13.5));
ann.push(A('EP pairs: different chromosomes',602,735,13));
[['0.87',118],['0.78',321],['0.81',519]].forEach(([r,x])=>ann.push(A('R<sup>2</sup>=' + r,x,756,10.5,{xanchor:'left',color:'#111'})));
ann.push(A('STARR-seq Expression<br>(RNA / DNA)',79,833,13,{textangle:-90}));
ann.push(A('Promoter x Enhancer Activity',404,966,13.5));

Plotly.newPlot('chart',traces,layout,{staticPlot:true,displayModeBar:false});
</script></body></html>
